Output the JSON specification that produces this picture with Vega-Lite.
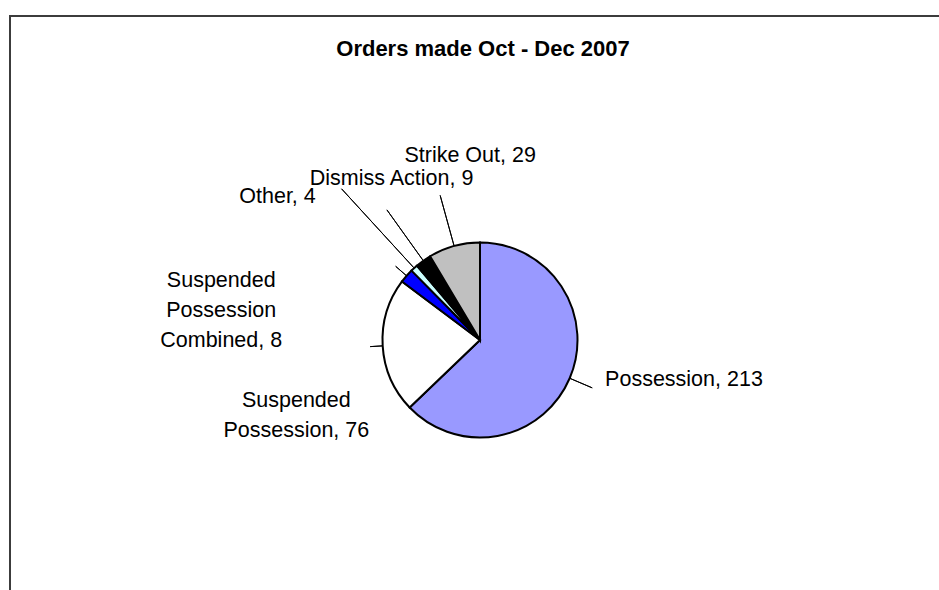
{
  "$schema": "https://vega.github.io/schema/vega-lite/v6.json",
  "width": 940,
  "height": 648,
  "autosize": "none",
  "padding": {"left": 10, "top": 16, "right": -11, "bottom": -74},
  "background": "white",
  "view": {"stroke": "#3c3c3c", "strokeWidth": 2, "fill": "white"},
  "config": {"font": "Liberation Sans"},
  "title": {"text": "Orders made Oct - Dec 2007", "fontSize": 22, "fontWeight": "bold", "font": "Liberation Sans", "color": "#000000", "anchor": "middle", "frame": "group", "offset": -62, "baseline": "alphabetic", "dx": 3},
  "data": {"values": [
    {"category": "Possession", "value": 213},
    {"category": "Suspended Possession", "value": 76},
    {"category": "Suspended Possession Combined", "value": 8},
    {"category": "Other", "value": 4},
    {"category": "Dismiss Action", "value": 9},
    {"category": "Strike Out", "value": 29}
  ]},
  "transform": [
    {"window": [{"op": "row_number", "as": "idx"}]},
    {"stack": "value", "groupby": [], "sort": [{"field": "idx", "order": "ascending"}], "as": ["v0", "v1"]},
    {"calculate": "(datum.v0 + datum.v1) / 2", "as": "mid"},
    {"calculate": "datum.category + ',\u00a0' + datum.value", "as": "label"}
  ],
  "layer": [
    {"mark": {"type": "arc", "outerRadius": 97.5, "stroke": "#000000", "strokeWidth": 2},
     "encoding": {
       "theta": {"field": "value", "type": "quantitative", "stack": true},
       "order": {"field": "idx", "type": "quantitative"},
       "color": {"field": "category", "type": "nominal", "legend": null,
         "scale": {"domain": ["Possession", "Suspended Possession", "Suspended Possession Combined", "Other", "Dismiss Action", "Strike Out"],
                   "range": ["#9999FF", "#FFFFFF", "#0000FF", "#CCFFFF", "#000000", "#C0C0C0"]}}
     }},
    {"transform": [{"filter": "datum.category === 'Possession'"}],
     "mark": {"type": "arc", "innerRadius": 98, "outerRadius": 122, "filled": false, "stroke": "#000000", "strokeWidth": 1},
     "encoding": {"theta": {"field": "mid", "type": "quantitative", "stack": null}, "theta2": {"field": "mid"}}},
    {"transform": [{"filter": "datum.category === 'Suspended Possession'"}],
     "mark": {"type": "arc", "innerRadius": 98, "outerRadius": 110, "filled": false, "stroke": "#000000", "strokeWidth": 1},
     "encoding": {"theta": {"field": "mid", "type": "quantitative", "stack": null}, "theta2": {"field": "mid"}}},
    {"transform": [{"filter": "datum.category === 'Suspended Possession Combined'"}],
     "mark": {"type": "arc", "innerRadius": 98, "outerRadius": 112, "filled": false, "stroke": "#000000", "strokeWidth": 1},
     "encoding": {"theta": {"field": "mid", "type": "quantitative", "stack": null}, "theta2": {"field": "mid"}}},
    {"transform": [{"filter": "datum.category === 'Other'"}],
     "mark": {"type": "arc", "innerRadius": 98, "outerRadius": 205, "filled": false, "stroke": "#000000", "strokeWidth": 1},
     "encoding": {"theta": {"field": "mid", "type": "quantitative", "stack": null}, "theta2": {"field": "mid"}}},
    {"transform": [{"filter": "datum.category === 'Dismiss Action'"}],
     "mark": {"type": "arc", "innerRadius": 98, "outerRadius": 160, "filled": false, "stroke": "#000000", "strokeWidth": 1},
     "encoding": {"theta": {"field": "mid", "type": "quantitative", "stack": null}, "theta2": {"field": "mid"}}},
    {"transform": [{"filter": "datum.category === 'Strike Out'"}],
     "mark": {"type": "arc", "innerRadius": 98, "outerRadius": 150, "filled": false, "stroke": "#000000", "strokeWidth": 1},
     "encoding": {"theta": {"field": "mid", "type": "quantitative", "stack": null}, "theta2": {"field": "mid"}}},
    {"transform": [{"filter": "datum.category === 'Possession'"}],
     "mark": {"type": "text", "radius": 200, "dx": 20, "dy": -38, "align": "center", "baseline": "middle", "fontSize": 21.5, "font": "Liberation Sans", "fill": "#000000"},
     "encoding": {"theta": {"field": "mid", "type": "quantitative", "stack": null}, "text": {"field": "label"}}},
    {"transform": [{"filter": "datum.category === 'Suspended Possession'"}],
     "mark": {"type": "text", "radius": 180, "dx": -4, "dy": 50, "align": "center", "baseline": "middle", "fontSize": 21.5, "font": "Liberation Sans", "fill": "#000000", "lineBreak": " ", "lineHeight": 30},
     "encoding": {"theta": {"field": "mid", "type": "quantitative", "stack": null}, "text": {"field": "label"}}},
    {"transform": [{"filter": "datum.category === 'Suspended Possession Combined'"}],
     "mark": {"type": "text", "radius": 260, "dx": -63, "dy": 112, "align": "center", "baseline": "middle", "fontSize": 21.5, "font": "Liberation Sans", "fill": "#000000", "lineBreak": " ", "lineHeight": 30},
     "encoding": {"theta": {"field": "mid", "type": "quantitative", "stack": null}, "text": {"field": "label"}}},
    {"transform": [{"filter": "datum.category === 'Other'"}],
     "mark": {"type": "text", "radius": 248, "dx": -35, "dy": 40, "align": "center", "baseline": "middle", "fontSize": 21.5, "font": "Liberation Sans", "fill": "#000000"},
     "encoding": {"theta": {"field": "mid", "type": "quantitative", "stack": null}, "text": {"field": "label"}}},
    {"transform": [{"filter": "datum.category === 'Dismiss Action'"}],
     "mark": {"type": "text", "radius": 183, "dx": 18, "dy": -12, "align": "center", "baseline": "middle", "fontSize": 21.5, "font": "Liberation Sans", "fill": "#000000"},
     "encoding": {"theta": {"field": "mid", "type": "quantitative", "stack": null}, "text": {"field": "label"}}},
    {"transform": [{"filter": "datum.category === 'Strike Out'"}],
     "mark": {"type": "text", "radius": 184, "dx": 39, "dy": -7, "align": "center", "baseline": "middle", "fontSize": 21.5, "font": "Liberation Sans", "fill": "#000000"},
     "encoding": {"theta": {"field": "mid", "type": "quantitative", "stack": null}, "text": {"field": "label"}}}
  ]
}
